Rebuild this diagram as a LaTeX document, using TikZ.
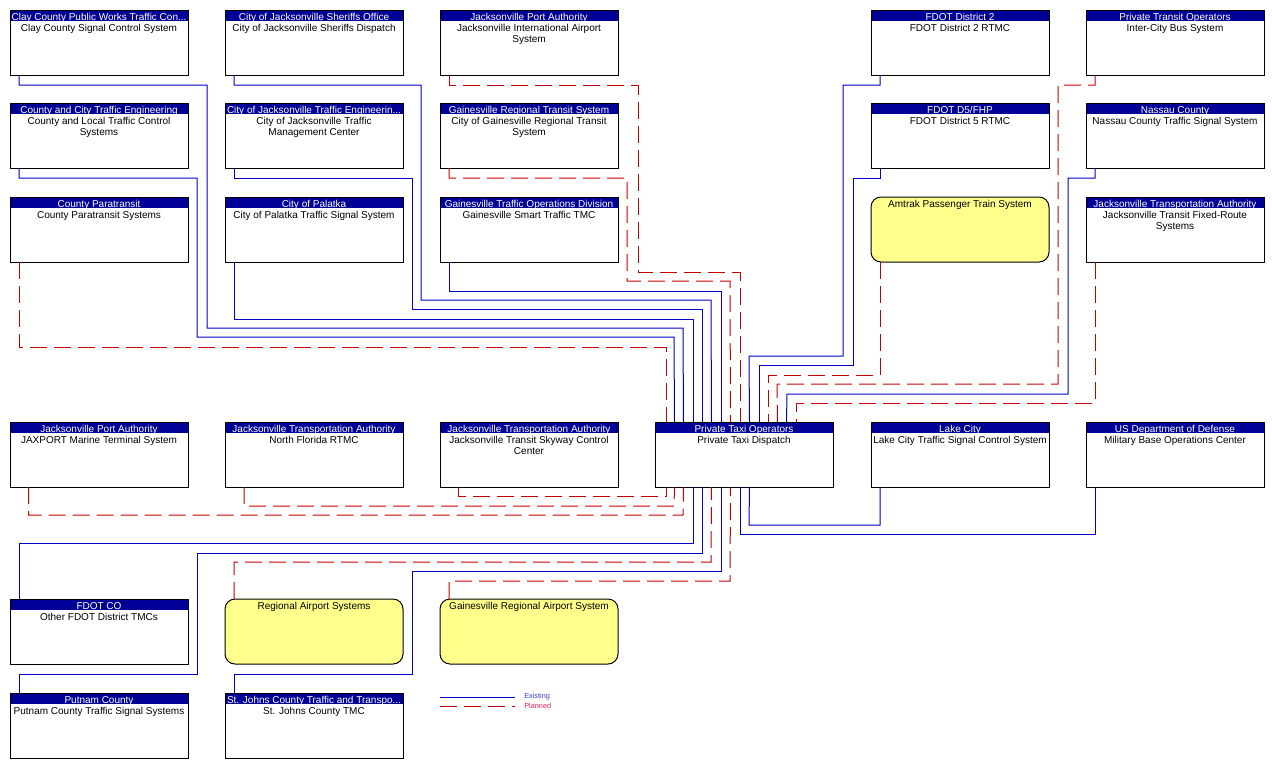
\documentclass[tikz,border=0pt]{standalone}
\usepackage{fontspec}
\setmainfont{Liberation Sans}
\usetikzlibrary{calc}
\definecolor{hdrblue}{RGB}{0,0,150}
\definecolor{lnblue}{RGB}{0,0,200}
\definecolor{lnred}{RGB}{200,0,0}
\definecolor{ybg}{RGB}{255,255,140}
\definecolor{lgblue}{RGB}{60,60,230}
\definecolor{lgred}{RGB}{220,30,90}
\newcommand\bt[2]{\parbox[t][48.75pt][t]{133.5pt}{\centering\baselineskip=8.25pt\lineskiplimit=-20pt\relax\rule{0pt}{7.5pt}\textcolor{white}{#1}\par #2\par}}
\newcommand\yt[1]{\parbox[t][48.75pt][t]{133.5pt}{\centering\baselineskip=8.25pt\lineskiplimit=-20pt\relax\rule{0pt}{7.5pt}#1\par}}
\begin{document}
\begin{tikzpicture}[x=0.75pt,y=-0.75pt,
  every node/.style={font=\fontsize{7.5}{8.25}\selectfont},
  box/.style={draw=black, line width=0.75pt, fill=white, inner sep=0pt, outer sep=0pt, anchor=north west,
    path picture={\fill[hdrblue] (path picture bounding box.north west) rectangle ([yshift=-8.25pt]path picture bounding box.north east);}},
  ybox/.style={draw=black, line width=0.75pt, fill=ybg, rounded corners=7.5pt, inner sep=0pt, outer sep=0pt, anchor=north west},
  exist/.style={draw=lnblue, line width=0.75pt},
  plan/.style={draw=lnred, line width=0.75pt, dash pattern=on 12.75pt off 5.25pt},
  lgtext/.style={anchor=west, inner sep=0pt, font=\fontsize{5.5}{6}\selectfont}]
\useasboundingbox (0,0) rectangle (1272,769);
\fill[white] (0,0) rectangle (1272,769);

% Row 1
\node[box] (clay) at (10,10) {\bt{Clay County Public Works Traffic Con...}{Clay County Signal Control System}};
\node[box] (jso) at (225,10) {\bt{City of Jacksonville Sheriffs Office}{City of Jacksonville Sheriffs Dispatch}};
\node[box] (jia) at (440,10) {\bt{Jacksonville Port Authority}{Jacksonville International Airport\\System}};
\node[box] (fdot2) at (871,10) {\bt{FDOT District 2}{FDOT District 2 RTMC}};
\node[box] (ictb) at (1086,10) {\bt{Private Transit Operators}{Inter-City Bus System}};
% Row 2
\node[box] (cltc) at (10,103) {\bt{County and City Traffic Engineering}{County and Local Traffic Control\\Systems}};
\node[box] (jtmc) at (225,103) {\bt{City of Jacksonville Traffic Engineerin...}{City of Jacksonville Traffic\\Management Center}};
\node[box] (grts) at (440,103) {\bt{Gainesville Regional Transit System}{City of Gainesville Regional Transit\\System}};
\node[box] (fdot5) at (871,103) {\bt{FDOT D5/FHP}{FDOT District 5 RTMC}};
\node[box] (nassau) at (1086,103) {\bt{Nassau County}{Nassau County Traffic Signal System}};
% Row 3
\node[box] (para) at (10,197) {\bt{County Paratransit}{County Paratransit Systems}};
\node[box] (palatka) at (225,197) {\bt{City of Palatka}{City of Palatka Traffic Signal System}};
\node[box] (gstmc) at (440,197) {\bt{Gainesville Traffic Operations Division}{Gainesville Smart Traffic TMC}};
\node[ybox] (amtrak) at (871,197) {\yt{Amtrak Passenger Train System}};
\node[box] (jtafr) at (1086,197) {\bt{Jacksonville Transportation Authority}{Jacksonville Transit Fixed-Route\\Systems}};
% Row 4
\node[box] (jaxport) at (10,422) {\bt{Jacksonville Port Authority}{JAXPORT Marine Terminal System}};
\node[box] (nfrtmc) at (225,422) {\bt{Jacksonville Transportation Authority}{North Florida RTMC}};
\node[box] (skyway) at (440,422) {\bt{Jacksonville Transportation Authority}{Jacksonville Transit Skyway Control\\Center}};
\node[box] (taxi) at (655,422) {\bt{Private Taxi Operators}{Private Taxi Dispatch}};
\node[box] (lake) at (871,422) {\bt{Lake City}{Lake City Traffic Signal Control System}};
\node[box] (dod) at (1086,422) {\bt{US Department of Defense}{Military Base Operations Center}};
% Row 5
\node[box] (fdotco) at (10,599) {\bt{FDOT CO}{Other FDOT District TMCs}};
\node[ybox] (rairport) at (225,599) {\yt{Regional Airport Systems}};
\node[ybox] (gairport) at (440,599) {\yt{Gainesville Regional Airport System}};
% Row 6
\node[box] (putnam) at (10,693) {\bt{Putnam County}{Putnam County Traffic Signal Systems}};
\node[box] (stjohns) at (225,693) {\bt{St. Johns County Traffic and Transpo...}{St. Johns County TMC}};

% Connectors into the top of the taxi node
\draw[plan]  ($(para.south west)+(9,0)$) |- (666,347) -- ($(taxi.north west)+(11,0)$);
\draw[exist] ($(cltc.south west)+(9,0)$) |- (197,178) |- (674,337) -- ($(taxi.north west)+(19.5,0)$);
\draw[exist] ($(clay.south west)+(9,0)$) |- (207,85) |- (683,328) -- ($(taxi.north west)+(28.5,0)$);
\draw[exist] ($(palatka.south west)+(9,0)$) |- (693,319) -- ($(taxi.north west)+(38,0)$);
\draw[exist] ($(jtmc.south west)+(9,0)$) |- (412,178) |- (702,309) -- ($(taxi.north west)+(47,0)$);
\draw[exist] ($(jso.south west)+(9,0)$) |- (421,85) |- (711,300) -- ($(taxi.north west)+(56.5,0)$);
\draw[exist] ($(gstmc.south west)+(9,0)$) |- (721,291) -- ($(taxi.north west)+(66,0)$);
\draw[plan]  ($(grts.south west)+(9,0)$) |- (627,178) |- (730,281) -- ($(taxi.north west)+(75.5,0)$);
\draw[plan]  ($(jia.south west)+(9,0)$) |- (638,85) |- (740,272) -- ($(taxi.north west)+(85,0)$);
\draw[exist] ($(fdot2.south west)+(9,0)$) |- (843,85) |- (749,356) -- ($(taxi.north west)+(94.5,0)$);
\draw[exist] ($(fdot5.south west)+(9,0)$) |- (853,178) |- (759,365) -- ($(taxi.north west)+(104,0)$);
\draw[plan]  ($(amtrak.south west)+(9,0)$) |- (768,375) -- ($(taxi.north west)+(113,0)$);
\draw[plan]  ($(ictb.south west)+(9,0)$) |- (1058,85) |- (777,384) -- ($(taxi.north west)+(122.5,0)$);
\draw[exist] ($(nassau.south west)+(9,0)$) |- (1068,178) |- (787,394) -- ($(taxi.north west)+(131.5,0)$);
\draw[plan]  ($(jtafr.south west)+(9,0)$) |- (796,403) -- ($(taxi.north west)+(141,0)$);

% Connectors into the bottom of the taxi node
\draw[plan]  ($(skyway.south west)+(18,0)$) |- (666,496) -- ($(taxi.south west)+(11,0)$);
\draw[plan]  ($(nfrtmc.south west)+(19,0)$) |- (674,506) -- ($(taxi.south west)+(19.5,0)$);
\draw[plan]  ($(jaxport.south west)+(18.5,0)$) |- (683,515) -- ($(taxi.south west)+(28.5,0)$);
\draw[exist] ($(fdotco.north west)+(9,0)$) |- (693,543) -- ($(taxi.south west)+(38,0)$);
\draw[exist] ($(putnam.north west)+(9,0)$) |- (197,674) |- (702,553) -- ($(taxi.south west)+(47,0)$);
\draw[plan]  ($(rairport.north west)+(9,0)$) |- (711,562) -- ($(taxi.south west)+(56.5,0)$);
\draw[exist] ($(stjohns.north west)+(9,0)$) |- (412,674) |- (721,571) -- ($(taxi.south west)+(66,0)$);
\draw[plan]  ($(gairport.north west)+(9,0)$) |- (730,581) -- ($(taxi.south west)+(75.5,0)$);
\draw[exist] ($(dod.south west)+(9,0)$) |- (740,534) -- ($(taxi.south west)+(85,0)$);
\draw[exist] ($(lake.south west)+(9,0)$) |- (749,525) -- ($(taxi.south west)+(94.5,0)$);

% Legend
\coordinate (lgEa) at (440,697);
\coordinate (lgEb) at (515,697);
\coordinate (lgPa) at (440,706);
\coordinate (lgPb) at (515,706);
\draw[exist] (lgEa) -- (lgEb);
\draw[plan] (lgPa) -- (lgPb);
\node[lgtext, text=lgblue] (lgE) at (524,697) {Existing};
\node[lgtext, text=lgred] (lgP) at (524,706) {Planned};
\end{tikzpicture}
\end{document}
